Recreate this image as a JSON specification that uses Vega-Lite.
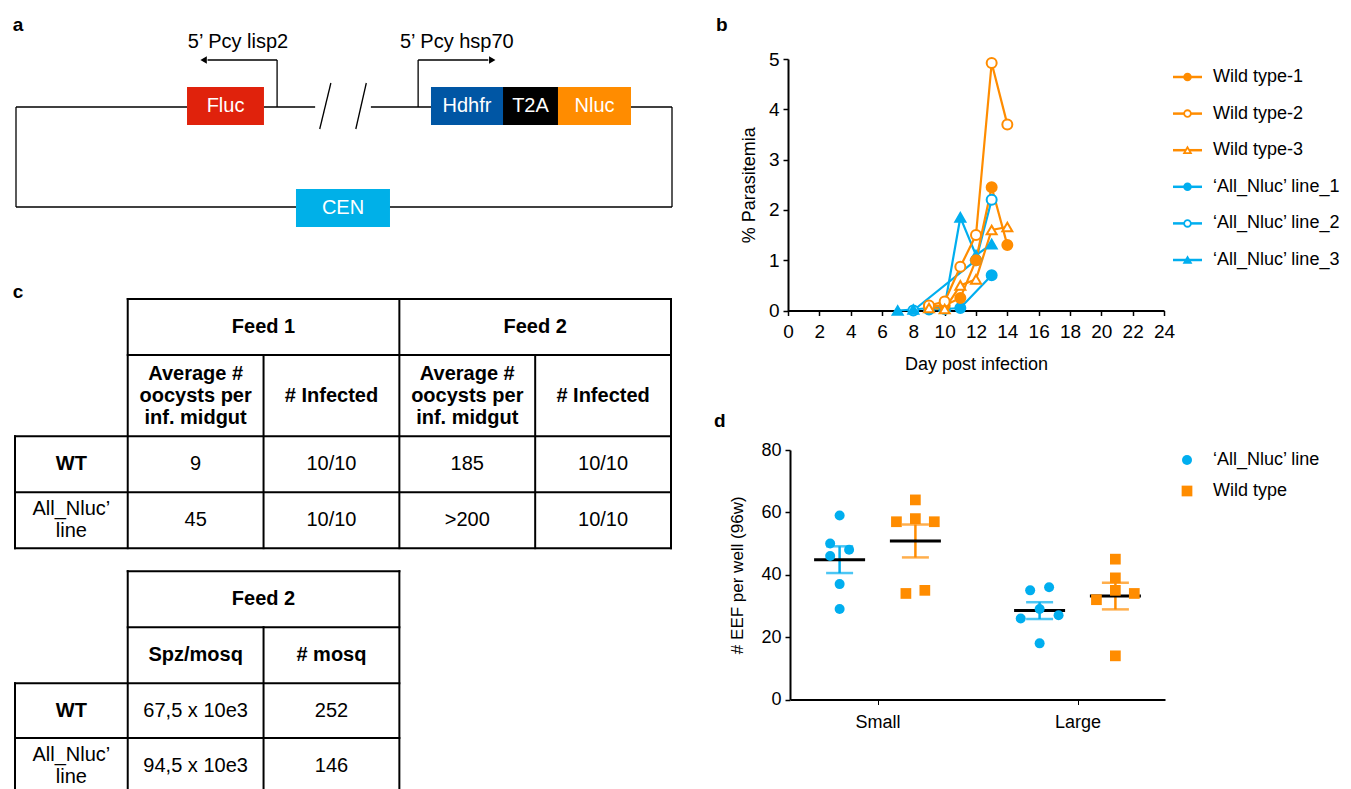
{
"$schema":"https://vega.github.io/schema/vega-lite/v6.json",
"width":1351,"height":789,"autosize":{"type":"none"},"padding":0,"background":"white",
"config":{"view":{"stroke":null},"font":"Liberation Sans","axis":{"grid":false,"labelFlush":false,"labelOverlap":false,"domainColor":"black","tickColor":"black","labelColor":"black","titleColor":"black","titleFontWeight":"normal","labelFont":"Liberation Sans","titleFont":"Liberation Sans"}},
"datasets":{
"a_lines":[
{"x":0,"x2":26.07,"y":10,"y2":10},
{"x":37.8,"x2":45.6,"y":10,"y2":10},
{"x":54.1,"x2":63.3,"y":10,"y2":10},
{"x":93.75,"x2":100,"y":10,"y2":10},
{"x":0,"x2":0,"y":0,"y2":10},
{"x":100,"x2":100,"y":0,"y2":10},
{"x":0,"x2":100,"y":0,"y2":0},
{"x":39.8,"x2":39.8,"y":10,"y2":14.7},
{"x":29.2,"x2":39.8,"y":14.7,"y2":14.7},
{"x":61.3,"x2":61.3,"y":10,"y2":14.7},
{"x":61.3,"x2":72.0,"y":14.7,"y2":14.7},
{"x":46.3,"x2":48.0,"y":7.8,"y2":12.4},
{"x":51.8,"x2":53.4,"y":7.8,"y2":12.4}
],
"a_heads":[{"x":28.6,"y":14.7,"dir":"left"},{"x":72.6,"y":14.7,"dir":"right"}],
"a_boxes":[
{"name":"Fluc","x":26.07,"x2":37.8,"y":8.2,"y2":12,"xm":31.94,"ym":10.1},
{"name":"Hdhfr","x":63.26,"x2":74.24,"y":8.2,"y2":12,"xm":68.75,"ym":10.1},
{"name":"T2A","x":74.24,"x2":82.62,"y":8.2,"y2":12,"xm":78.43,"ym":10.1},
{"name":"Nluc","x":82.62,"x2":93.75,"y":8.2,"y2":12,"xm":88.19,"ym":10.1},
{"name":"CEN","x":42.68,"x2":57.01,"y":-2,"y2":1.8,"xm":49.85,"ym":-0.1}
],
"a_labels":[{"t":"5’ Pcy lisp2","x":33.84,"y":16.5},{"t":"5’ Pcy hsp70","x":67.2,"y":16.5}],
"letters":[{"t":"a","x":0.3,"y":18.2},{"t":"b","x":107.6,"y":18.2},{"t":"c","x":0.3,"y":-8.5},{"t":"d","x":107.3,"y":-21.4}],
"c_lines":[
{"x":0.83,"x2":4.83,"y":0,"y2":0},
{"x":0.83,"x2":4.83,"y":1,"y2":1},
{"x":0,"x2":4.83,"y":2.45,"y2":2.45},
{"x":0,"x2":4.83,"y":3.45,"y2":3.45},
{"x":0,"x2":4.83,"y":4.45,"y2":4.45},
{"x":0,"x2":0,"y":2.45,"y2":4.45},
{"x":0.83,"x2":0.83,"y":0,"y2":4.45},
{"x":1.83,"x2":1.83,"y":1,"y2":4.45},
{"x":2.83,"x2":2.83,"y":0,"y2":4.45},
{"x":3.83,"x2":3.83,"y":1,"y2":4.45},
{"x":4.83,"x2":4.83,"y":0,"y2":4.45},
{"x":0.83,"x2":2.83,"y":4.86,"y2":4.86},
{"x":0.83,"x2":2.83,"y":5.86,"y2":5.86},
{"x":0,"x2":2.83,"y":6.86,"y2":6.86},
{"x":0,"x2":2.83,"y":7.84,"y2":7.84},
{"x":0,"x2":0,"y":6.86,"y2":8.9},
{"x":0.83,"x2":0.83,"y":4.86,"y2":8.9},
{"x":1.83,"x2":1.83,"y":5.86,"y2":8.9},
{"x":2.83,"x2":2.83,"y":4.86,"y2":8.9}
],
"c_text":[
{"t":"Feed 1","x":1.83,"y":0.5,"bold":true},
{"t":"Feed 2","x":3.83,"y":0.5,"bold":true},
{"t":"Average #\noocysts per\ninf. midgut","x":1.33,"y":1.34,"bold":true},
{"t":"# Infected","x":2.33,"y":1.725,"bold":true},
{"t":"Average #\noocysts per\ninf. midgut","x":3.33,"y":1.34,"bold":true},
{"t":"# Infected","x":4.33,"y":1.725,"bold":true},
{"t":"WT","x":0.415,"y":2.95,"bold":true},
{"t":"9","x":1.33,"y":2.95,"bold":false},
{"t":"10/10","x":2.33,"y":2.95,"bold":false},
{"t":"185","x":3.33,"y":2.95,"bold":false},
{"t":"10/10","x":4.33,"y":2.95,"bold":false},
{"t":"All_Nluc’\nline","x":0.415,"y":3.75,"bold":false},
{"t":"45","x":1.33,"y":3.95,"bold":false},
{"t":"10/10","x":2.33,"y":3.95,"bold":false},
{"t":">200","x":3.33,"y":3.95,"bold":false},
{"t":"10/10","x":4.33,"y":3.95,"bold":false},
{"t":"Feed 2","x":1.83,"y":5.36,"bold":true},
{"t":"Spz/mosq","x":1.33,"y":6.36,"bold":true},
{"t":"# mosq","x":2.33,"y":6.36,"bold":true},
{"t":"WT","x":0.415,"y":7.35,"bold":true},
{"t":"67,5 x 10e3","x":1.33,"y":7.35,"bold":false},
{"t":"252","x":2.33,"y":7.35,"bold":false},
{"t":"All_Nluc’\nline","x":0.415,"y":8.14,"bold":false},
{"t":"94,5 x 10e3","x":1.33,"y":8.34,"bold":false},
{"t":"146","x":2.33,"y":8.34,"bold":false}
],
"para":[
{"series":"‘All_Nluc’  line_1","day":9,"pct":0.02},
{"series":"‘All_Nluc’  line_1","day":10,"pct":0.03},
{"series":"‘All_Nluc’  line_1","day":11,"pct":0.05},
{"series":"‘All_Nluc’  line_1","day":13,"pct":0.7},
{"series":"‘All_Nluc’  line_2","day":8,"pct":0.0},
{"series":"‘All_Nluc’  line_2","day":12,"pct":1.0},
{"series":"‘All_Nluc’  line_2","day":13,"pct":2.2},
{"series":"‘All_Nluc’  line_3","day":7,"pct":0.0},
{"series":"‘All_Nluc’  line_3","day":8,"pct":0.02},
{"series":"‘All_Nluc’  line_3","day":10,"pct":0.08},
{"series":"‘All_Nluc’  line_3","day":11,"pct":1.85},
{"series":"‘All_Nluc’  line_3","day":12,"pct":1.1},
{"series":"‘All_Nluc’  line_3","day":13,"pct":1.32},
{"series":"Wild type-1","day":9,"pct":0.08},
{"series":"Wild type-1","day":10,"pct":0.1},
{"series":"Wild type-1","day":11,"pct":0.25},
{"series":"Wild type-1","day":12,"pct":1.0},
{"series":"Wild type-1","day":13,"pct":2.45},
{"series":"Wild type-1","day":14,"pct":1.3},
{"series":"Wild type-2","day":9,"pct":0.1},
{"series":"Wild type-2","day":10,"pct":0.18},
{"series":"Wild type-2","day":11,"pct":0.87},
{"series":"Wild type-2","day":12,"pct":1.5},
{"series":"Wild type-2","day":13,"pct":4.92},
{"series":"Wild type-2","day":14,"pct":3.7},
{"series":"Wild type-3","day":9,"pct":0.05},
{"series":"Wild type-3","day":10,"pct":0.03},
{"series":"Wild type-3","day":11,"pct":0.5},
{"series":"Wild type-3","day":12,"pct":0.62},
{"series":"Wild type-3","day":13,"pct":1.6},
{"series":"Wild type-3","day":14,"pct":1.66}
],
"legB":[
{"series":"Wild type-1"},{"series":"Wild type-2"},{"series":"Wild type-3"},
{"series":"‘All_Nluc’  line_1"},{"series":"‘All_Nluc’  line_2"},{"series":"‘All_Nluc’  line_3"}
],
"eef":[
{"group":"Small","line":"All_Nluc","slot":"n0","value":59},
{"group":"Small","line":"All_Nluc","slot":"n-1","value":50},
{"group":"Small","line":"All_Nluc","slot":"n1","value":48},
{"group":"Small","line":"All_Nluc","slot":"n-1","value":46},
{"group":"Small","line":"All_Nluc","slot":"n0","value":37},
{"group":"Small","line":"All_Nluc","slot":"n0","value":29},
{"group":"Small","line":"Wild type","slot":"w0","value":64},
{"group":"Small","line":"Wild type","slot":"w-2","value":57},
{"group":"Small","line":"Wild type","slot":"w0","value":58},
{"group":"Small","line":"Wild type","slot":"w2","value":57},
{"group":"Small","line":"Wild type","slot":"w-1","value":34},
{"group":"Small","line":"Wild type","slot":"w1","value":35},
{"group":"Large","line":"All_Nluc","slot":"n-1","value":35},
{"group":"Large","line":"All_Nluc","slot":"n1","value":36},
{"group":"Large","line":"All_Nluc","slot":"n0","value":29},
{"group":"Large","line":"All_Nluc","slot":"n-2","value":26},
{"group":"Large","line":"All_Nluc","slot":"n2","value":27},
{"group":"Large","line":"All_Nluc","slot":"n0","value":18},
{"group":"Large","line":"Wild type","slot":"w0","value":45},
{"group":"Large","line":"Wild type","slot":"w0","value":39},
{"group":"Large","line":"Wild type","slot":"w0","value":35},
{"group":"Large","line":"Wild type","slot":"w-2","value":32},
{"group":"Large","line":"Wild type","slot":"w2","value":34},
{"group":"Large","line":"Wild type","slot":"w0","value":14}
],
"legD":[{"line":"All_Nluc","label":"‘All_Nluc’ line"},{"line":"Wild type","label":"Wild type"}]
},
"layer":[
{"layer":[
 {"data":{"name":"a_lines"},"mark":{"type":"rule","color":"black","strokeWidth":1.3},
  "encoding":{"x":{"field":"x","type":"quantitative","scale":{"domain":[0,100],"range":[16,672],"nice":false,"zero":false},"axis":null},"x2":{"field":"x2"},
   "y":{"field":"y","type":"quantitative","scale":{"domain":[0,10],"range":[207,107],"nice":false,"zero":false},"axis":null},"y2":{"field":"y2"}}},
 {"data":{"name":"a_heads"},"mark":{"type":"point","filled":true,"color":"black","size":55,"opacity":1},
  "encoding":{"x":{"field":"x","type":"quantitative","scale":{"domain":[0,100],"range":[16,672],"nice":false,"zero":false},"axis":null},
   "y":{"field":"y","type":"quantitative","scale":{"domain":[0,10],"range":[207,107],"nice":false,"zero":false},"axis":null},
   "shape":{"field":"dir","type":"nominal","scale":{"domain":["left","right"],"range":["triangle-left","triangle-right"]},"legend":null}}},
 {"data":{"name":"a_boxes"},"mark":{"type":"rect"},
  "encoding":{"x":{"field":"x","type":"quantitative","scale":{"domain":[0,100],"range":[16,672],"nice":false,"zero":false},"axis":null},"x2":{"field":"x2"},
   "y":{"field":"y","type":"quantitative","scale":{"domain":[0,10],"range":[207,107],"nice":false,"zero":false},"axis":null},"y2":{"field":"y2"},
   "color":{"field":"name","type":"nominal","scale":{"domain":["Fluc","Hdhfr","T2A","Nluc","CEN"],"range":["#e0220c","#0056a4","#000000","#ff8c00","#00b0e8"]},"legend":null}}},
 {"data":{"name":"a_boxes"},"mark":{"type":"text","color":"white","fontSize":20,"align":"center","baseline":"middle"},
  "encoding":{"x":{"field":"xm","type":"quantitative","scale":{"domain":[0,100],"range":[16,672],"nice":false,"zero":false},"axis":null},
   "y":{"field":"ym","type":"quantitative","scale":{"domain":[0,10],"range":[207,107],"nice":false,"zero":false},"axis":null},"text":{"field":"name"}}},
 {"data":{"name":"a_labels"},"mark":{"type":"text","color":"black","fontSize":20,"align":"center","baseline":"middle"},
  "encoding":{"x":{"field":"x","type":"quantitative","scale":{"domain":[0,100],"range":[16,672],"nice":false,"zero":false},"axis":null},
   "y":{"field":"y","type":"quantitative","scale":{"domain":[0,10],"range":[207,107],"nice":false,"zero":false},"axis":null},"text":{"field":"t"}}},
 {"data":{"name":"letters"},"mark":{"type":"text","color":"black","fontSize":19,"fontWeight":"bold","align":"center","baseline":"middle"},
  "encoding":{"x":{"field":"x","type":"quantitative","scale":{"domain":[0,100],"range":[16,672],"nice":false,"zero":false},"axis":null},
   "y":{"field":"y","type":"quantitative","scale":{"domain":[0,10],"range":[207,107],"nice":false,"zero":false},"axis":null},"text":{"field":"t"}}}
]},
{"layer":[
 {"data":{"name":"c_lines"},"mark":{"type":"rule","color":"black","strokeWidth":2,"strokeCap":"square"},
  "encoding":{"x":{"field":"x","type":"quantitative","scale":{"domain":[0,4.83],"range":[15,671],"nice":false,"zero":false},"axis":null},"x2":{"field":"x2"},
   "y":{"field":"y","type":"quantitative","scale":{"domain":[0,8.84],"range":[299,794],"nice":false,"zero":false},"axis":null},"y2":{"field":"y2"}}},
 {"data":{"name":"c_text"},"transform":[{"filter":"!datum.bold"}],"mark":{"type":"text","color":"black","fontSize":20,"align":"center","baseline":"middle","lineBreak":"\n","lineHeight":22},
  "encoding":{"x":{"field":"x","type":"quantitative","scale":{"domain":[0,4.83],"range":[15,671],"nice":false,"zero":false},"axis":null},
   "y":{"field":"y","type":"quantitative","scale":{"domain":[0,8.84],"range":[299,794],"nice":false,"zero":false},"axis":null},"text":{"field":"t"}}},
 {"data":{"name":"c_text"},"transform":[{"filter":"datum.bold"}],"mark":{"type":"text","color":"black","fontSize":20,"fontWeight":"bold","align":"center","baseline":"middle","lineBreak":"\n","lineHeight":22},
  "encoding":{"x":{"field":"x","type":"quantitative","scale":{"domain":[0,4.83],"range":[15,671],"nice":false,"zero":false},"axis":null},
   "y":{"field":"y","type":"quantitative","scale":{"domain":[0,8.84],"range":[299,794],"nice":false,"zero":false},"axis":null},"text":{"field":"t"}}}
]},
{"layer":[
 {"data":{"name":"para"},"mark":{"type":"line","strokeWidth":2.2},
  "encoding":{"x":{"field":"day","type":"quantitative","scale":{"domain":[0,24],"range":[788,1164],"nice":false,"zero":false},
    "axis":{"orient":"bottom","offset":-478.5,"values":[0,2,4,6,8,10,12,14,16,18,20,22,24],"title":"Day post infection","titleFontSize":18,"titlePadding":14,"labelFontSize":19,"labelPadding":7,"tickSize":5,"tickWidth":1.5,"domainWidth":2}},
   "y":{"field":"pct","type":"quantitative","scale":{"domain":[0,5],"range":[310.5,59],"nice":false,"zero":false},
    "axis":{"orient":"left","offset":-788,"values":[0,1,2,3,4,5],"title":"% Parasitemia","titleFontSize":18,"titlePadding":10,"labelFontSize":19,"labelPadding":4,"tickSize":5,"tickWidth":1.5,"domainWidth":2}},
   "color":{"field":"series","type":"nominal","scale":{"domain":["Wild type-1","Wild type-2","Wild type-3","‘All_Nluc’  line_1","‘All_Nluc’  line_2","‘All_Nluc’  line_3"],"range":["#ff8c00","#ff8c00","#ff8c00","#00aeef","#00aeef","#00aeef"]},"legend":null}}},
 {"data":{"name":"para"},"mark":{"type":"point","filled":true,"size":100,"strokeWidth":2,"opacity":1},
  "encoding":{"x":{"field":"day","type":"quantitative","scale":{"domain":[0,24],"range":[788,1164],"nice":false,"zero":false},
    "axis":{"orient":"bottom","offset":-478.5,"values":[0,2,4,6,8,10,12,14,16,18,20,22,24],"title":"Day post infection","titleFontSize":18,"titlePadding":14,"labelFontSize":19,"labelPadding":7,"tickSize":5,"tickWidth":1.5,"domainWidth":2}},
   "y":{"field":"pct","type":"quantitative","scale":{"domain":[0,5],"range":[310.5,59],"nice":false,"zero":false},
    "axis":{"orient":"left","offset":-788,"values":[0,1,2,3,4,5],"title":"% Parasitemia","titleFontSize":18,"titlePadding":10,"labelFontSize":19,"labelPadding":4,"tickSize":5,"tickWidth":1.5,"domainWidth":2}},
   "shape":{"field":"series","type":"nominal","scale":{"domain":["Wild type-1","Wild type-2","Wild type-3","‘All_Nluc’  line_1","‘All_Nluc’  line_2","‘All_Nluc’  line_3"],"range":["circle","circle","triangle-up","circle","circle","triangle-up"]},"legend":null},
   "stroke":{"field":"series","type":"nominal","scale":{"domain":["Wild type-1","Wild type-2","Wild type-3","‘All_Nluc’  line_1","‘All_Nluc’  line_2","‘All_Nluc’  line_3"],"range":["#ff8c00","#ff8c00","#ff8c00","#00aeef","#00aeef","#00aeef"]},"legend":null},
   "fill":{"field":"series","type":"nominal","scale":{"domain":["Wild type-1","Wild type-2","Wild type-3","‘All_Nluc’  line_1","‘All_Nluc’  line_2","‘All_Nluc’  line_3"],"range":["#ff8c00","white","white","#00aeef","white","#00aeef"]},"legend":null}}}
]},
{"layer":[
 {"data":{"name":"legB"},"mark":{"type":"rule","strokeWidth":2.5},
  "encoding":{"x":{"datum":0,"type":"quantitative","scale":{"domain":[0,1],"range":[1173,1202],"nice":false,"zero":false},"axis":null},"x2":{"datum":1},
   "y":{"field":"series","type":"nominal","scale":{"type":"point","domain":["Wild type-1","Wild type-2","Wild type-3","‘All_Nluc’  line_1","‘All_Nluc’  line_2","‘All_Nluc’  line_3"],"range":[77,260],"padding":0},"axis":null},
   "color":{"field":"series","type":"nominal","scale":{"domain":["Wild type-1","Wild type-2","Wild type-3","‘All_Nluc’  line_1","‘All_Nluc’  line_2","‘All_Nluc’  line_3"],"range":["#ff8c00","#ff8c00","#ff8c00","#00aeef","#00aeef","#00aeef"]},"legend":null}}},
 {"data":{"name":"legB"},"mark":{"type":"point","filled":true,"size":45,"strokeWidth":1.8,"opacity":1},
  "encoding":{"x":{"datum":0.5,"type":"quantitative","scale":{"domain":[0,1],"range":[1173,1202],"nice":false,"zero":false},"axis":null},
   "y":{"field":"series","type":"nominal","scale":{"type":"point","domain":["Wild type-1","Wild type-2","Wild type-3","‘All_Nluc’  line_1","‘All_Nluc’  line_2","‘All_Nluc’  line_3"],"range":[77,260],"padding":0},"axis":null},
   "shape":{"field":"series","type":"nominal","scale":{"domain":["Wild type-1","Wild type-2","Wild type-3","‘All_Nluc’  line_1","‘All_Nluc’  line_2","‘All_Nluc’  line_3"],"range":["circle","circle","triangle-up","circle","circle","triangle-up"]},"legend":null},
   "stroke":{"field":"series","type":"nominal","scale":{"domain":["Wild type-1","Wild type-2","Wild type-3","‘All_Nluc’  line_1","‘All_Nluc’  line_2","‘All_Nluc’  line_3"],"range":["#ff8c00","#ff8c00","#ff8c00","#00aeef","#00aeef","#00aeef"]},"legend":null},
   "fill":{"field":"series","type":"nominal","scale":{"domain":["Wild type-1","Wild type-2","Wild type-3","‘All_Nluc’  line_1","‘All_Nluc’  line_2","‘All_Nluc’  line_3"],"range":["#ff8c00","white","white","#00aeef","white","#00aeef"]},"legend":null}}},
 {"data":{"name":"legB"},"mark":{"type":"text","fontSize":18,"align":"left","baseline":"middle","color":"black"},
  "encoding":{"x":{"datum":1.38,"type":"quantitative","scale":{"domain":[0,1],"range":[1173,1202],"nice":false,"zero":false},"axis":null},
   "y":{"field":"series","type":"nominal","scale":{"type":"point","domain":["Wild type-1","Wild type-2","Wild type-3","‘All_Nluc’  line_1","‘All_Nluc’  line_2","‘All_Nluc’  line_3"],"range":[77,260],"padding":0},"axis":null},
   "text":{"field":"series"}}}
]},
{"layer":[
 {"data":{"name":"eef"},"mark":{"type":"errorbar","extent":"stderr","ticks":{"size":27,"thickness":2.5},"rule":{"strokeWidth":2.5}},
  "encoding":{"x":{"field":"group","type":"nominal","scale":{"type":"point","domain":["Small","Large"],"range":[790,1165],"padding":0.4375},
    "axis":{"orient":"bottom","offset":-89.5,"title":null,"labelAngle":0,"labelFontSize":18,"labelPadding":9,"tickSize":5,"tickWidth":1,"domainWidth":2}},
   "xOffset":{"field":"line","type":"nominal","scale":{"type":"point","domain":["All_Nluc","Wild type"],"range":[-37.9,37.9],"padding":0}},
   "y":{"field":"value","type":"quantitative","scale":{"domain":[0,80],"range":[699.5,450],"nice":false,"zero":false},
    "axis":{"orient":"left","offset":-790,"values":[0,20,40,60,80],"title":"# EEF per well (96w)","titleFontSize":17,"titlePadding":14,"labelFontSize":18,"labelPadding":4,"tickSize":5,"tickWidth":1.5,"domainWidth":2}},
   "color":{"field":"line","type":"nominal","scale":{"domain":["All_Nluc","Wild type"],"range":["#00aeef","#ff8c00"]},"legend":null}}},
 {"data":{"name":"eef"},"mark":{"type":"tick","color":"black","thickness":3,"size":51,"opacity":1},
  "encoding":{"x":{"field":"group","type":"nominal","scale":{"type":"point","domain":["Small","Large"],"range":[790,1165],"padding":0.4375},
    "axis":{"orient":"bottom","offset":-89.5,"title":null,"labelAngle":0,"labelFontSize":18,"labelPadding":9,"tickSize":5,"tickWidth":1,"domainWidth":2}},
   "xOffset":{"field":"line","type":"nominal","scale":{"type":"point","domain":["All_Nluc","Wild type"],"range":[-37.9,37.9],"padding":0}},
   "y":{"field":"value","aggregate":"mean","type":"quantitative","scale":{"domain":[0,80],"range":[699.5,450],"nice":false,"zero":false},
    "axis":{"orient":"left","offset":-790,"values":[0,20,40,60,80],"title":"# EEF per well (96w)","titleFontSize":17,"titlePadding":14,"labelFontSize":18,"labelPadding":4,"tickSize":5,"tickWidth":1.5,"domainWidth":2}}}},
 {"data":{"name":"eef"},"mark":{"type":"point","filled":true,"opacity":1},
  "encoding":{"x":{"field":"group","type":"nominal","scale":{"type":"point","domain":["Small","Large"],"range":[790,1165],"padding":0.4375},
    "axis":{"orient":"bottom","offset":-89.5,"title":null,"labelAngle":0,"labelFontSize":18,"labelPadding":9,"tickSize":5,"tickWidth":1,"domainWidth":2}},
   "xOffset":{"field":"slot","type":"nominal","scale":{"type":"point","domain":["n-2","n-1","n0","n1","n2","g1","g2","g3","w-2","w-1","w0","w1","w2"],"range":[-56.8,56.8],"padding":0}},
   "y":{"field":"value","type":"quantitative","scale":{"domain":[0,80],"range":[699.5,450],"nice":false,"zero":false},
    "axis":{"orient":"left","offset":-790,"values":[0,20,40,60,80],"title":"# EEF per well (96w)","titleFontSize":17,"titlePadding":14,"labelFontSize":18,"labelPadding":4,"tickSize":5,"tickWidth":1.5,"domainWidth":2}},
   "color":{"field":"line","type":"nominal","scale":{"domain":["All_Nluc","Wild type"],"range":["#00aeef","#ff8c00"]},"legend":null},
   "shape":{"field":"line","type":"nominal","scale":{"domain":["All_Nluc","Wild type"],"range":["circle","square"]},"legend":null},
   "size":{"field":"line","type":"ordinal","scale":{"domain":["All_Nluc","Wild type"],"range":[100,115]},"legend":null}}}
],"resolve":{"scale":{"xOffset":"independent"}}},
{"layer":[
 {"data":{"name":"legD"},"mark":{"type":"point","filled":true,"opacity":1},
  "encoding":{"x":{"datum":0,"type":"quantitative","scale":{"domain":[0,1],"range":[1187,1213],"nice":false,"zero":false},"axis":null},
   "y":{"field":"line","type":"nominal","scale":{"type":"point","domain":["All_Nluc","Wild type"],"range":[460,491],"padding":0},"axis":null},
   "color":{"field":"line","type":"nominal","scale":{"domain":["All_Nluc","Wild type"],"range":["#00aeef","#ff8c00"]},"legend":null},
   "shape":{"field":"line","type":"nominal","scale":{"domain":["All_Nluc","Wild type"],"range":["circle","square"]},"legend":null},
   "size":{"field":"line","type":"ordinal","scale":{"domain":["All_Nluc","Wild type"],"range":[100,115]},"legend":null}}},
 {"data":{"name":"legD"},"mark":{"type":"text","fontSize":18,"align":"left","baseline":"middle","color":"black"},
  "encoding":{"x":{"datum":1,"type":"quantitative","scale":{"domain":[0,1],"range":[1187,1213],"nice":false,"zero":false},"axis":null},
   "y":{"field":"line","type":"nominal","scale":{"type":"point","domain":["All_Nluc","Wild type"],"range":[460,491],"padding":0},"axis":null},
   "text":{"field":"label"}}}
]}
],
"resolve":{"scale":{"x":"independent","y":"independent","color":"independent","shape":"independent","fill":"independent","stroke":"independent","size":"independent","xOffset":"independent"}}
}
